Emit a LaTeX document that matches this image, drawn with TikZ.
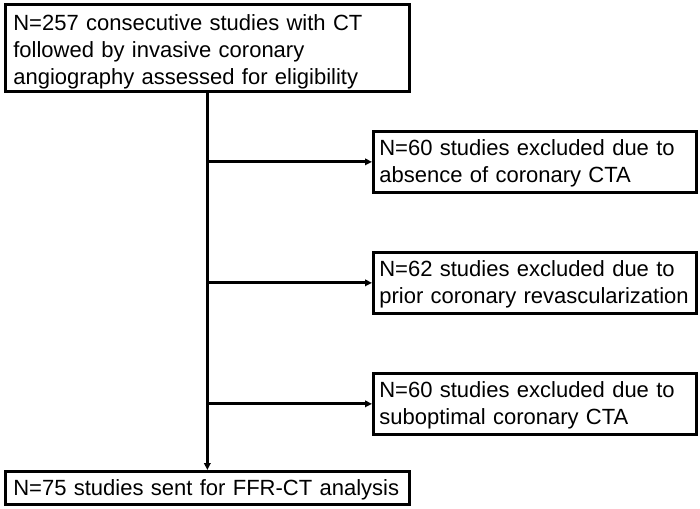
\documentclass[tikz,border=0pt]{standalone}
\usepackage{fontspec}
\setmainfont{Liberation Sans}
\usetikzlibrary{arrows.meta,calc}
\begin{document}
\begin{tikzpicture}[x=1pt,y=-1pt,
  box/.style={draw, line width=2.7pt, rectangle, anchor=north west, align=left,
    inner ysep=0pt, font=\fontsize{22}{27}\selectfont},
  conn/.style={line width=3pt, -{Triangle[length=7pt,width=6.5pt]}}]
\useasboundingbox (0,0) rectangle (700,508);
\node[box, inner xsep=8pt, text width=388pt, minimum height=87pt] (top) at (4,3)
  {\rule{0pt}{24pt}N=257 consecutive studies with CT\\followed by invasive coronary\\angiography assessed for eligibility};
\node[box, inner xsep=6pt, text width=311pt, minimum height=61pt] (r1) at (372,130)
  {\rule{0pt}{19pt}N=60 studies excluded due to\\absence of coronary CTA};
\node[box, inner xsep=6pt, text width=311pt, minimum height=61pt] (r2) at (372,251)
  {\rule{0pt}{19pt}N=62 studies excluded due to\\prior coronary revascularization};
\node[box, inner xsep=6pt, text width=311pt, minimum height=61pt] (r3) at (372,372)
  {\rule{0pt}{19pt}N=60 studies excluded due to\\suboptimal coronary CTA};
\node[box, inner xsep=8pt, text width=388pt, minimum height=33pt] (bot) at (4,470)
  {\rule{0pt}{20pt}N=75 studies sent for FFR-CT analysis};
\draw[conn] (top.south) -- (bot.north);
\coordinate (b1) at (top.south |- r1.west);
\coordinate (b2) at (top.south |- r2.west);
\coordinate (b3) at (top.south |- r3.west);
\draw[conn] (b1) -- (r1.west);
\draw[conn] (b2) -- (r2.west);
\draw[conn] (b3) -- (r3.west);
\end{tikzpicture}
\end{document}
